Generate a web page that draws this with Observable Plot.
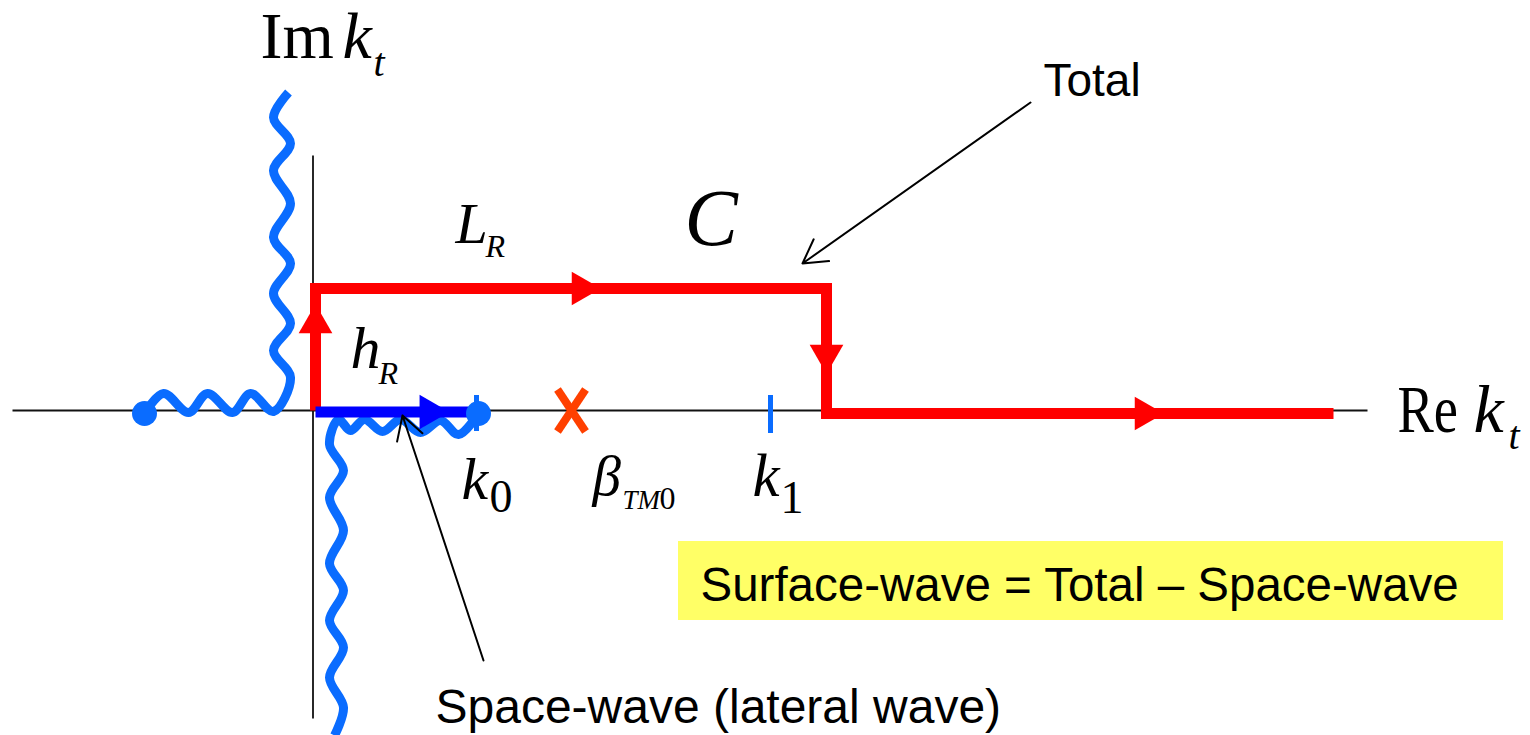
<!DOCTYPE html>
<html><head><meta charset="utf-8">
<script src="https://cdn.jsdelivr.net/npm/d3@7"></script>
<script src="https://cdn.jsdelivr.net/npm/@observablehq/plot@0.6"></script>
<style>html,body{margin:0;padding:0;background:#fff;overflow:hidden}</style>
</head><body><div id="chart"></div>
<script>
// Complex k_t plane, arbitrary units (origin at the intersection of axes)
const axes = [
  {x1: -3.01, y1: 0, x2: 10.54, y2: 0},      // Re axis
  {x1: -0.005, y1: 2.55, x2: -0.005, y2: -3.08} // Im axis
];
// Integration contour C (red)
const contour = [
  {x: 0.02, y: 0}, {x: 0.02, y: 1.22}, {x: 5.13, y: 1.22}, {x: 5.13, y: -0.03}, {x: 10.20, y: -0.03}
];
const contourArrows = [
  {x: 0.02, y: 0.87, dir: 0}, {x: 2.68, y: 1.22, dir: 90}, {x: 5.13, y: 0.56, dir: 180}, {x: 8.31, y: -0.03, dir: 90}
];
// Space-wave path h_R (blue)
const spacePath = [{x: 0.02, y: -0.015}, {x: 1.55, y: -0.015}];
const spaceArrow = [{x: 1.16, y: -0.015, dir: 90}];
// Branch cuts (wavy) — extremes
const cutLeft = [
  [-1.69,-0.03],[-1.50,0.17],[-1.25,-0.02],[-1.06,0.17],[-0.81,-0.02],[-0.63,0.17],[-0.40,-0.01],
  [-0.23,0.33],[-0.40,0.60],[-0.23,0.87],[-0.40,1.17],[-0.23,1.47],[-0.40,1.73],[-0.23,2.07],
  [-0.40,2.40],[-0.23,2.67],[-0.40,2.93],[-0.25,3.18]
];
const cutRight = [
  [1.65,-0.03],[1.45,-0.24],[1.27,-0.10],[1.07,-0.22],[0.87,-0.09],[0.69,-0.21],[0.51,-0.09],
  [0.37,-0.20],[0.25,-0.09],[0.16,-0.34],[0.30,-0.60],[0.16,-0.87],[0.30,-1.20],[0.16,-1.53],
  [0.30,-1.80],[0.16,-2.10],[0.30,-2.37],[0.16,-2.67],[0.30,-2.97],[0.21,-3.25]
];
const branchPoints = [{x: -1.69, y: -0.03}, {x: 1.65, y: -0.03}];
const ticks = [{x: 1.63, y1: 0.15, y2: -0.21}, {x: 4.57, y1: 0.15, y2: -0.23}];
// Pole beta_TM0 (X mark)
const pole = [
  {x1: 2.44, y1: 0.21, x2: 2.72, y2: -0.21},
  {x1: 2.72, y1: 0.21, x2: 2.44, y2: -0.21}
];
// Annotation box and arrows
const box = [{x1: 3.65, x2: 11.90, y1: -1.31, y2: -2.10}];
const pointers = [
  {x1: 7.17, y1: 3.08, x2: 4.89, y2: 1.47},
  {x1: 1.70, y1: -2.50, x2: 0.89, y2: -0.05}
];
// Math labels (serif): text, x, y (baseline), size, italic
const mathLabels = [
  {t: "Im", x: -0.53, y: 3.53, s: 66, i: false},
  {t: "k", x: 0.29, y: 3.53, s: 66, i: true},
  {t: "t", x: 0.60, y: 3.35, s: 40, i: true},
  {t: "Re", x: 10.84, y: -0.21, s: 68, i: false},
  {t: "k", x: 11.60, y: -0.21, s: 68, i: true},
  {t: "t", x: 11.95, y: -0.38, s: 40, i: true},
  {t: "L", x: 1.42, y: 1.68, s: 58, i: true},
  {t: "R", x: 1.72, y: 1.54, s: 32, i: true},
  {t: "C", x: 3.71, y: 1.66, s: 80, i: true},
  {t: "h", x: 0.37, y: 0.43, s: 60, i: true},
  {t: "R", x: 0.65, y: 0.27, s: 32, i: true},
  {t: "k", x: 1.48, y: -0.88, s: 60, i: true},
  {t: "0", x: 1.76, y: -1.01, s: 46, i: false},
  {t: "β", x: 2.79, y: -0.84, s: 57, i: true},
  {t: "TM", x: 3.09, y: -0.98, s: 27, i: true},
  {t: "0", x: 3.46, y: -0.98, s: 32, i: false},
  {t: "k", x: 4.39, y: -0.85, s: 61, i: true},
  {t: "1", x: 4.67, y: -1.02, s: 46, i: false}
];
const textLabels = [
  {t: "Total", x: 7.30, y: 3.15, s: 46},
  {t: "Space-wave (lateral wave)", x: 1.22, y: -3.12, s: 48},
  {t: "Surface-wave = Total \u2013 Space-wave", x: 3.87, y: -1.90, s: 47.5}
];

const SERIF = "'Liberation Serif','Times New Roman',serif";
const SANS = "'Liberation Sans',Arial,sans-serif";
const LIGHTBLUE = "#0A6CFF";

const serifMarks = mathLabels.map(d => Plot.text([d], {
  x: "x", y: "y", text: "t", fontSize: d.s, fontFamily: SERIF,
  fontStyle: d.i ? "italic" : "normal", textAnchor: "start", lineAnchor: "bottom", fill: "black"
}));
const sansMarks = textLabels.map(d => Plot.text([d], {
  x: "x", y: "y", text: "t", fontSize: d.s, fontFamily: SANS,
  textAnchor: "start", lineAnchor: "bottom", fill: "black"
}));

const chart = Plot.plot({
  width: 1530, height: 735, margin: 0,
  x: {domain: [-3.13, 12.17], axis: null},
  y: {domain: [-3.25, 4.10], axis: null},
  style: {background: "white", overflow: "visible"},
  marks: [
    Plot.rect(box, {x1: "x1", x2: "x2", y1: "y1", y2: "y2", fill: "#FFFF66"}),
    Plot.link(axes, {x1: "x1", y1: "y1", x2: "x2", y2: "y2", stroke: "#111", strokeWidth: 1.8}),
    Plot.line(cutLeft, {x: d => d[0], y: d => d[1], stroke: LIGHTBLUE, strokeWidth: 9, curve: "catmull-rom", strokeLinecap: "butt"}),
    Plot.line(cutRight, {x: d => d[0], y: d => d[1], stroke: LIGHTBLUE, strokeWidth: 9, curve: "catmull-rom", strokeLinecap: "butt"}),
    Plot.ruleX(ticks, {x: "x", y1: "y1", y2: "y2", stroke: LIGHTBLUE, strokeWidth: 5}),
    Plot.line(contour, {x: "x", y: "y", stroke: "#FF0000", strokeWidth: 11, strokeLinejoin: "miter", strokeMiterlimit: 4, strokeLinecap: "butt"}),
    Plot.dot(contourArrows, {x: "x", y: "y", rotate: "dir", symbol: "triangle", r: 12.5, fill: "#FF0000", stroke: null}),
    Plot.line(spacePath, {x: "x", y: "y", stroke: "#0000FF", strokeWidth: 11, strokeLinecap: "butt"}),
    Plot.dot(spaceArrow, {x: "x", y: "y", rotate: "dir", symbol: "triangle", r: 12.8, fill: "#0000FF", stroke: null}),
    Plot.dot(branchPoints, {x: "x", y: "y", r: 12.5, fill: LIGHTBLUE, stroke: null}),
    Plot.link(pole, {x1: "x1", y1: "y1", x2: "x2", y2: "y2", stroke: "#FF4000", strokeWidth: 8, strokeLinecap: "butt"}),
    Plot.arrow(pointers, {x1: "x1", y1: "y1", x2: "x2", y2: "y2", stroke: "black", strokeWidth: 2, headLength: 20, headAngle: 60}),
    ...serifMarks,
    ...sansMarks
  ]
});
document.getElementById("chart").appendChild(chart);

// "Re" is horizontally condensed in the original equation object
d3.select(chart).selectAll("text").filter(function() { return this.textContent === "Re"; }).each(function() {
  const t = this.getAttribute("transform") || "";
  const x = +this.getAttribute("x") || 0, y = +this.getAttribute("y") || 0;
  this.removeAttribute("x"); this.removeAttribute("y");
  this.setAttribute("transform", `${t} translate(${x},${y}) scale(0.8,1)`);
});
</script>
</body></html>
